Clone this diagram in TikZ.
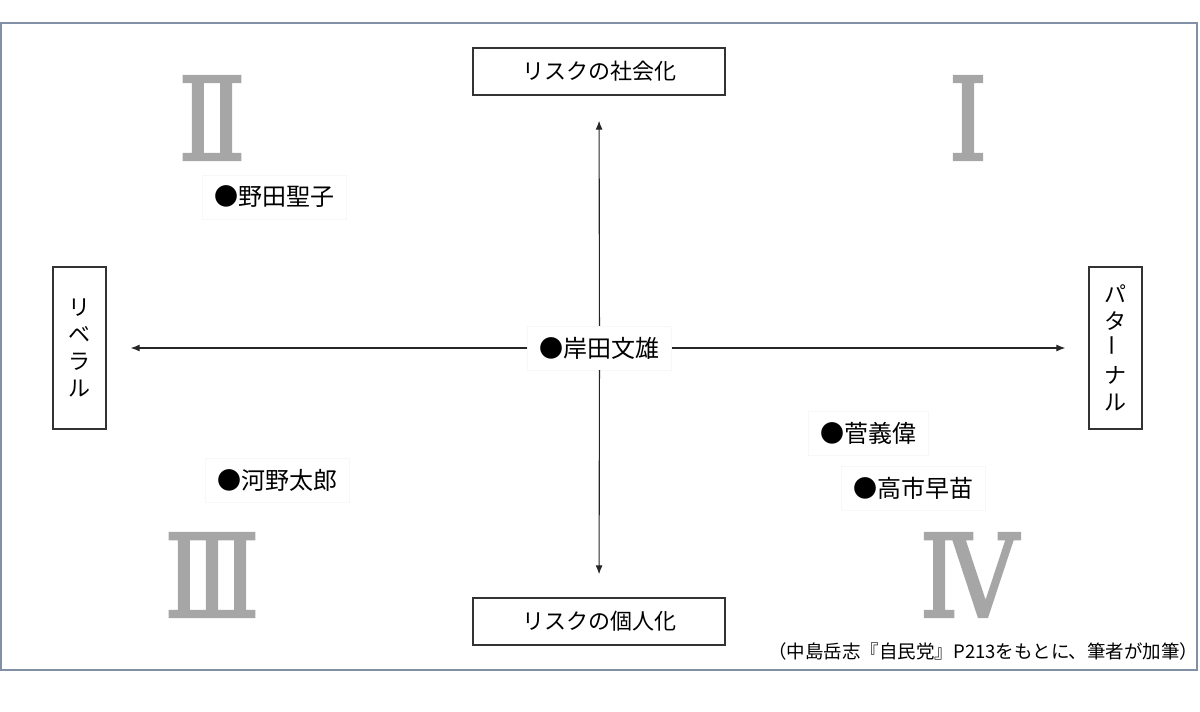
\documentclass[tikz,border=0pt]{standalone}
\usepackage{fontspec}
\setmainfont{Noto Sans CJK JP}
\newfontfamily\numeralfont[FakeStretch=0.86, FakeBold=2]{DejaVu Serif}
\usetikzlibrary{arrows.meta}
\definecolor{framecol}{HTML}{8290A6}
\definecolor{numeral}{HTML}{A6A6A6}
\tikzset{
  axisbox/.style={draw=black!80, line width=1.3pt, fill=white, inner sep=0pt,
                  font=\fontsize{22}{27}\selectfont},
  polebox/.style={axisbox, minimum width=252pt, minimum height=47pt},
  sidebox/.style={axisbox, minimum width=53pt, minimum height=162pt, align=center},
  politician/.style={draw=black!3, fill=white, font=\fontsize{24}{28}\selectfont,
                     inner xsep=12pt, minimum height=44pt},
  quadrant/.style={text=numeral, inner sep=0pt,
                   font=\numeralfont\fontsize{115}{120}\selectfont},
  axisarrow/.style={-{Latex[length=9pt,width=7pt]}, line width=1.1pt, black!85},
}

\begin{document}
\begin{tikzpicture}[x=1pt,y=-1pt]
  \useasboundingbox (0,0) rectangle (1200,712);
  \draw[framecol, line width=1.5pt] (1,23) rectangle (1197,670);
  % quadrant numbers
  \node[quadrant] (q1) at (968,118) {Ⅰ};
  \node[quadrant] (q2) at (212,118) {Ⅱ};
  \node[quadrant] (q3) at (212,575) {Ⅲ};
  \node[quadrant] (q4) at (969,575) {Ⅳ};
  % axis labels
  \node[polebox] (social) at (599,71.5) {リスクの社会化};
  \node[polebox] (individual) at (599,621.5) {リスクの個人化};
  \node[sidebox] (liberal) at (79.5,348) {リ\\ベ\\ラ\\ル};
  \node[sidebox] (paternal) at (1115.5,348) {パ\\タ\\\rotatebox{90}{ー}\\ナ\\ル};
  % centre and axes
  \node[politician] (kishida) at (599.5,348) {●岸田文雄};
  \draw[axisarrow, shorten >=24pt] (kishida) -- (liberal);
  \draw[axisarrow, shorten >=23pt] (kishida) -- (paternal);
  \draw[axisarrow, shorten >=25pt] (kishida) -- (social);
  \draw[axisarrow, shorten >=23pt] (kishida) -- (individual);
  % politicians
  \node[politician] (noda) at (274.5,197) {●野田聖子};
  \node[politician] (kono) at (277.5,480) {●河野太郎};
  \node[politician] (suga) at (868,433) {●菅義偉};
  \node[politician] (takaichi) at (913,488) {●高市早苗};
  % source
  \node[anchor=east, font=\fontsize{18.5}{20}\selectfont] (source) at (1202,651)
    {（中島岳志『自民党』P213をもとに、筆者が加筆）};
\end{tikzpicture}
\end{document}
